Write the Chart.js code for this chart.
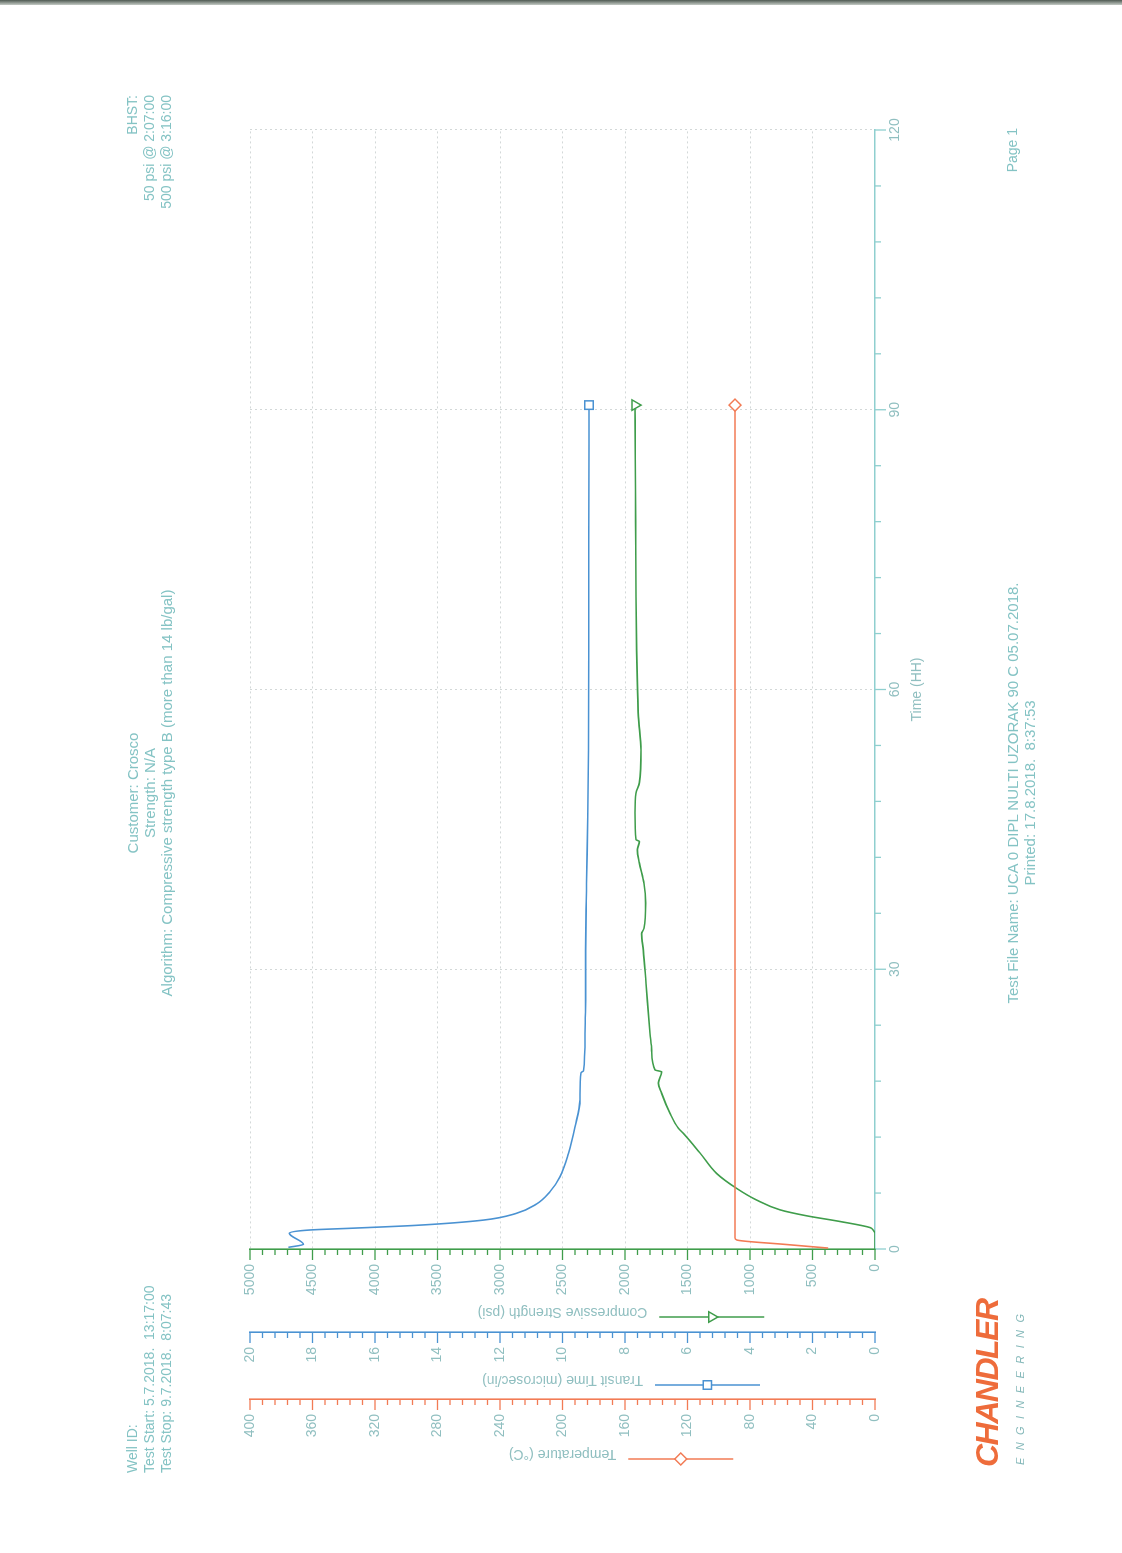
<!DOCTYPE html>
<html>
<head>
<meta charset="utf-8">
<title>UCA 0 DIPL NULTI UZORAK 90 C</title>
<script src="https://cdn.jsdelivr.net/npm/chart.js@4.4.1/dist/chart.umd.min.js"></script>
<style>
    html, body { margin: 0; padding: 0; background: #fff; }
    body { width: 1122px; height: 1553px; position: relative; overflow: hidden; font-family: "Liberation Sans", Arial, sans-serif; }
    #scanEdge { position: absolute; left: 0; top: 0; width: 1122px; height: 5px; background: linear-gradient(#4f5a52, #c4cbc5); }
    /* the report is printed landscape, the sheet is turned a quarter turn */
    #page { position: absolute; left: 0; top: 0; width: 1553px; height: 1122px; transform-origin: 0 0; transform: translate(0, 1553px) rotate(-90deg); }
    #page canvas { position: absolute; left: 0; top: 0; }
    .txt { position: absolute; font-size: 14px; line-height: 17px; color: #84c3c4; white-space: pre; }
    .big { font-size: 15px; }
    #logo { position: absolute; left: 86px; top: 970px; font-size: 32px; line-height: 34px; font-weight: bold; font-style: italic; color: #ee6c3b; letter-spacing: -1.5px; }
    #logoSub { position: absolute; left: 88px; top: 1014px; font-size: 11px; line-height: 13px; font-style: italic; color: #86b9ba; letter-spacing: 7.4px; }
</style>
</head>
<body>
<div id="scanEdge"></div>
<div id="page">
    <canvas id="uca" width="1553" height="1122"></canvas>

    <div class="txt" style="left:80px; top:124px;">Well ID:
Test Start: 5.7.2018.  13:17:00
Test Stop: 9.7.2018.  8:07:43</div>

    <div class="txt big" style="left:460px; top:124px; width:600px; text-align:center;">Customer: Crosco
Strength: N/A
Algorithm: Compressive strength type B (more than 14 lb/gal)</div>

    <div class="txt" style="right:95px; top:124px; text-align:right;">BHST:
50 psi @ 2:07:00
500 psi @ 3:16:00</div>

    <div id="logo">CHANDLER</div>
    <div id="logoSub">ENGINEERING</div>

    <div class="txt big" style="left:460px; top:1004px; width:600px; text-align:center;">Test File Name: UCA 0 DIPL NULTI UZORAK 90 C 05.07.2018.
Printed: 17.8.2018.  8:37:53</div>

    <div class="txt" style="right:128px; top:1004px;">Page 1</div>
</div>

<script>
// ---- data (time in hours) ----
const hoursTransit = [0.18, 0.5, 1.68, 2.04, 2.22, 2.54, 3.1, 3.83, 4.83, 6.15, 7.75, 10.26, 13.1, 16.0,
    18.9, 19.1, 23.1, 26.7, 32.0, 39.2, 46.4, 53.5, 64.2, 75.0, 90.5];
const transitTime = [18.77, 18.29, 18.74, 18.08, 16.8, 14.67, 12.53, 11.47, 10.83, 10.4, 10.08, 9.81, 9.6, 9.44,
    9.41, 9.33, 9.28, 9.26, 9.26, 9.23, 9.19, 9.17, 9.16, 9.16, 9.15];

const hoursStrength = [0, 1.68, 2.0, 2.3, 2.95, 3.56, 4.2, 5.25, 6.5, 8.1, 10.3, 12.4, 12.95, 14.55, 16.7,
    17.8, 19.0, 19.2, 21.3, 23.1, 28.5, 32.0, 33.8, 34.4, 37.1, 39.2, 41.4, 42.8, 43.7, 43.9, 46.8,
    48.9, 50.0, 53.5, 57.1, 60.7, 64.2, 70.0, 78.0, 85.0, 90.5];
const strength = [0, 0, 13, 40, 280, 547, 760, 947, 1107, 1267, 1400, 1533, 1573, 1640, 1707,
    1733, 1707, 1760, 1787, 1800, 1832, 1853, 1867, 1848, 1835, 1848, 1885, 1901, 1885, 1912, 1920,
    1912, 1885, 1872, 1893, 1901, 1907, 1912, 1915, 1918, 1920];

const hoursTemp = [0.1, 0.5, 0.97, 1.2, 10, 30, 60, 90.5];
const temperature = [30, 58, 88.5, 89.6, 89.6, 89.6, 89.6, 89.6];

// ---- tick labels ----
const timeLabels = [0, 30, 60, 90, 120];
const strengthLabels = [0, 500, 1000, 1500, 2000, 2500, 3000, 3500, 4000, 4500, 5000];
const transitLabels = [0, 2, 4, 6, 8, 10, 12, 14, 16, 18, 20];
const tempLabels = [0, 40, 80, 120, 160, 200, 240, 280, 320, 360, 400];

const GREEN = '#3f9d4b';
const BLUE = '#4a92d2';
const ORANGE = '#f27b55';
const TEAL = '#8fcfcf';
const LABEL = '#90bfc0';
const FONT = '"Liberation Sans", Arial, sans-serif';

function toPoints(xs, ys) {
    return xs.map((x, i) => ({ x: x, y: ys[i] }));
}

function labelFrom(list) {
    return function (value) {
        const hit = list.find(l => Math.abs(l - value) < 1e-6);
        return hit === undefined ? '' : String(hit);
    };
}

function isMajor(list, value) {
    return list.some(l => Math.abs(l - value) < 1e-6);
}

// only the last sample carries the marker, like the printout
function endMarker(ctx) {
    return ctx.dataIndex === ctx.dataset.data.length - 1 ? 6 : 0;
}

function valueAxis(opts) {
    return {
        type: 'linear',
        position: 'left',
        weight: opts.weight,
        min: 0,
        max: opts.labels[opts.labels.length - 1],
        afterFit: (scale) => { scale.width = opts.width; },
        ticks: {
            stepSize: opts.step,
            maxTicksLimit: 100,
            autoSkip: false,
            padding: 15,
            color: LABEL,
            font: { family: FONT, size: 14 },
            callback: labelFrom(opts.labels)
        },
        grid: {
            drawTicks: false,
            drawOnChartArea: opts.grid,
            color: (c) => (c.tick && c.tick.value > 0 && isMajor(opts.labels, c.tick.value)) ? '#d3d8d8' : 'rgba(0,0,0,0)',
            lineWidth: 1
        },
        border: { display: true, color: opts.color, width: 1.6, dash: [2, 3] },
        title: {
            display: true,
            text: opts.title,
            color: LABEL,
            font: { family: FONT, size: 14 },
            padding: { top: opts.titlePad, bottom: 0 }
        }
    };
}

const axisLegend = {
    yCS: { list: strengthLabels, color: GREEN, style: 'triangle', rotation: 180 },
    yTT: { list: transitLabels, color: BLUE, style: 'rect', rotation: 0 },
    yTemp: { list: tempLabels, color: ORANGE, style: 'rectRot', rotation: 0 }
};

// tick marks (long major, short minor) and the legend strokes beside each axis title
const axisDecor = {
    id: 'axisDecor',
    afterDraw(chart) {
        const ctx = chart.ctx;
        const area = chart.chartArea;
        ctx.save();
        ctx.setLineDash([]);
        Object.keys(chart.scales).forEach(id => {
            const scale = chart.scales[id];
            const list = id === 'x' ? timeLabels : axisLegend[id].list;
            ctx.strokeStyle = id === 'x' ? TEAL : axisLegend[id].color;
            ctx.lineWidth = 1.3;
            scale.ticks.forEach(t => {
                const p = scale.getPixelForValue(t.value);
                const len = isMajor(list, t.value) ? 11 : 6;
                ctx.beginPath();
                if (scale.isHorizontal()) {
                    ctx.moveTo(p, scale.top);
                    ctx.lineTo(p, scale.top + len);
                } else {
                    ctx.moveTo(scale.right, p);
                    ctx.lineTo(scale.right - len, p);
                }
                ctx.stroke();
            });
        });

        const cy = (area.top + area.bottom) / 2;
        ctx.font = '14px ' + FONT;
        Object.keys(axisLegend).forEach(id => {
            const scale = chart.scales[id];
            const leg = axisLegend[id];
            const w = ctx.measureText(scale.options.title.text).width;
            const cx = scale.left + scale.options.title.padding.top + 8.4 - 5;
            const y0 = cy + w / 2 + 12;
            const y1 = y0 + 105;
            ctx.strokeStyle = leg.color;
            ctx.lineWidth = 1.5;
            ctx.beginPath();
            ctx.moveTo(cx, y0);
            ctx.lineTo(cx, y1);
            ctx.stroke();
            ctx.fillStyle = '#ffffff';
            Chart.helpers.drawPoint(ctx, {
                pointStyle: leg.style, rotation: leg.rotation, radius: 6, borderWidth: 1.5
            }, cx, (y0 + y1) / 2);
        });
        ctx.restore();
    }
};

function series(label, data, color, style, rotation, axis) {
    return {
        label: label,
        data: data,
        yAxisID: axis,
        borderColor: color,
        backgroundColor: '#ffffff',
        borderWidth: 1.6,
        cubicInterpolationMode: 'monotone',
        pointStyle: style,
        rotation: rotation,
        pointRadius: endMarker,
        pointHoverRadius: endMarker,
        pointBorderColor: color,
        pointBackgroundColor: '#ffffff',
        pointBorderWidth: 1.5
    };
}

new Chart(document.getElementById('uca'), {
    type: 'line',
    data: {
        datasets: [
            series('Temperature (°C)', toPoints(hoursTemp, temperature), ORANGE, 'rectRot', 0, 'yTemp'),
            series('Transit Time (microsec/in)', toPoints(hoursTransit, transitTime), BLUE, 'rect', 0, 'yTT'),
            series('Compressive Strength (psi)', toPoints(hoursStrength, strength), GREEN, 'triangle', 180, 'yCS')
        ]
    },
    options: {
        responsive: false,
        animation: false,
        events: [],
        layout: { padding: { top: 250, right: 130, bottom: 187, left: 60 } },
        plugins: { legend: { display: false }, tooltip: { enabled: false } },
        scales: {
            x: {
                type: 'linear',
                position: 'bottom',
                min: 0,
                max: 120,
                afterFit: (scale) => { scale.height = 60; },
                ticks: {
                    stepSize: 6,
                    maxTicksLimit: 100,
                    autoSkip: false,
                    maxRotation: 0,
                    minRotation: 0,
                    padding: 12,
                    color: LABEL,
                    font: { family: FONT, size: 14 },
                    callback: labelFrom(timeLabels)
                },
                grid: {
                    drawTicks: false,
                    color: (c) => (c.tick && c.tick.value > 0 && isMajor(timeLabels, c.tick.value)) ? '#d3d8d8' : 'rgba(0,0,0,0)',
                    lineWidth: 1
                },
                border: { display: true, color: TEAL, width: 1.6, dash: [2, 3] },
                title: {
                    display: true,
                    text: 'Time (HH)',
                    color: LABEL,
                    font: { family: FONT, size: 14 },
                    padding: { top: 0, bottom: 9.6 }
                }
            },
            yCS: valueAxis({ labels: strengthLabels, step: 100, color: GREEN, title: 'Compressive Strength (psi)',
                width: 83, titlePad: 11.6, weight: 1, grid: true }),
            yTT: valueAxis({ labels: transitLabels, step: 0.4, color: BLUE, title: 'Transit Time (microsec/in)',
                width: 67, titlePad: 10.6, weight: 2, grid: false }),
            yTemp: valueAxis({ labels: tempLabels, step: 8, color: ORANGE, title: 'Temperature (°C)',
                width: 94, titlePad: 30.6, weight: 3, grid: false })
        }
    },
    plugins: [axisDecor]
});
</script>
</body>
</html>
